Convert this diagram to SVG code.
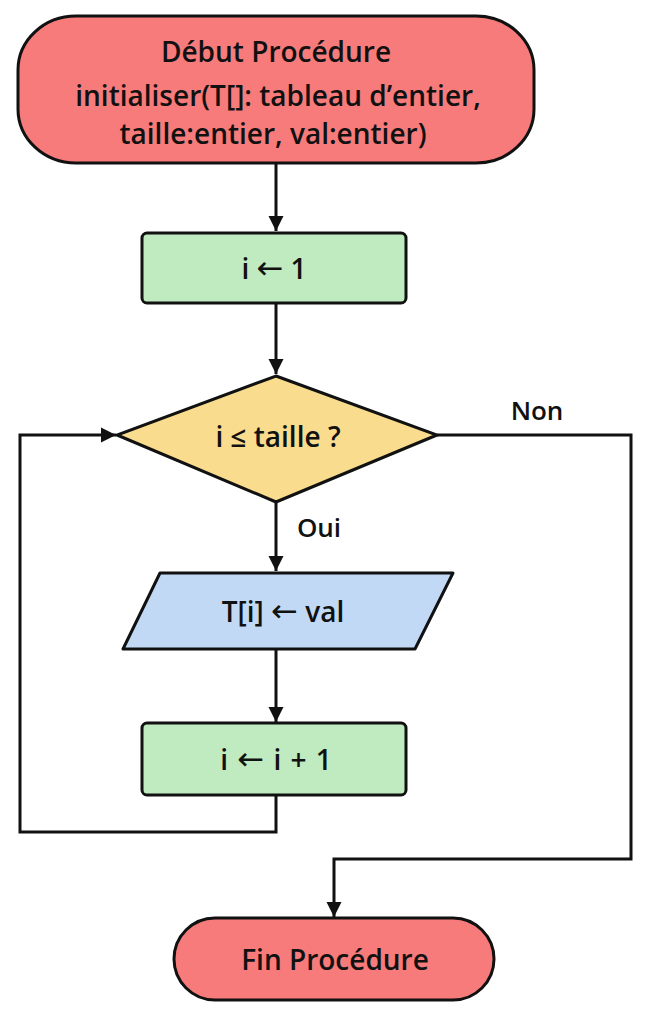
<svg xmlns="http://www.w3.org/2000/svg" width="650" height="1015" viewBox="0 0 650 1015">
<defs>
<style>
text{font-family:"Open Sans","Noto Sans","DejaVu Sans",sans-serif;font-weight:600;fill:#111;text-anchor:middle;dominant-baseline:central}
.t{font-size:28px}
.l{font-size:26px}
.a{font-family:"DejaVu Sans",sans-serif;font-weight:400;font-size:32px}
.term{fill:#f77b7b;stroke:#111;stroke-width:3}
.proc{fill:#c0ebc0;stroke:#111;stroke-width:3}
.dec{fill:#f9dc8e;stroke:#111;stroke-width:3;stroke-linejoin:miter}
.io{fill:#c2d9f6;stroke:#111;stroke-width:3;stroke-linejoin:round}
.c{fill:none;stroke:#111;stroke-width:3}
</style>
<marker id="ah" viewBox="0 0 10 10" refX="10" refY="5" markerWidth="5" markerHeight="5.5" orient="auto" markerUnits="strokeWidth">
<path d="M0,0 L10,5 L0,10 z" fill="#111"/>
</marker>
</defs>
<rect width="650" height="1015" fill="#fff"/>
<g id="connectors">
<path class="c" d="M276,163 V231" marker-end="url(#ah)"/>
<path class="c" d="M276,303 V374" marker-end="url(#ah)"/>
<path class="c" d="M276,503 V571" marker-end="url(#ah)"/>
<path class="c" d="M276,650 V722" marker-end="url(#ah)"/>
<path class="c" d="M276,795 V832 H20 V435 H116" marker-end="url(#ah)"/>
<path class="c" d="M437,435 H631 V859 H334 V917" marker-end="url(#ah)"/>
<text class="l" x="537" y="410">Non</text>
<text class="l" x="319" y="527">Oui</text>
</g>
<g id="start">
<rect class="term" x="18" y="16" width="516" height="147" rx="58" ry="54"/>
<text class="t" x="276" y="51">Début Procédure</text>
<text class="t" x="278" y="95">initialiser(T[]: tableau d’entier,</text>
<text class="t" x="273" y="133">taille:entier, val:entier)</text>
</g>
<g id="init">
<rect class="proc" x="142" y="233" width="264" height="70" rx="5"/>
<text class="t" x="274" y="268">i <tspan class="a">←</tspan> 1</text>
</g>
<g id="cond">
<polygon class="dec" points="276,376 437,435 276,502 117,435"/>
<text class="t" x="278" y="436">i ≤ taille ?</text>
</g>
<g id="assign">
<polygon class="io" points="160,573 453,573 415,649 123,649"/>
<text class="t" x="283" y="611">T[i] <tspan class="a">←</tspan> val</text>
</g>
<g id="incr">
<rect class="proc" x="142" y="723" width="264" height="72" rx="5"/>
<text class="t" x="276" y="759" word-spacing="2">i <tspan class="a">←</tspan> i + 1</text>
</g>
<g id="end">
<rect class="term" x="174" y="918" width="320" height="82" rx="41" ry="41"/>
<text class="t" x="335" y="959">Fin Procédure</text>
</g>
</svg>
